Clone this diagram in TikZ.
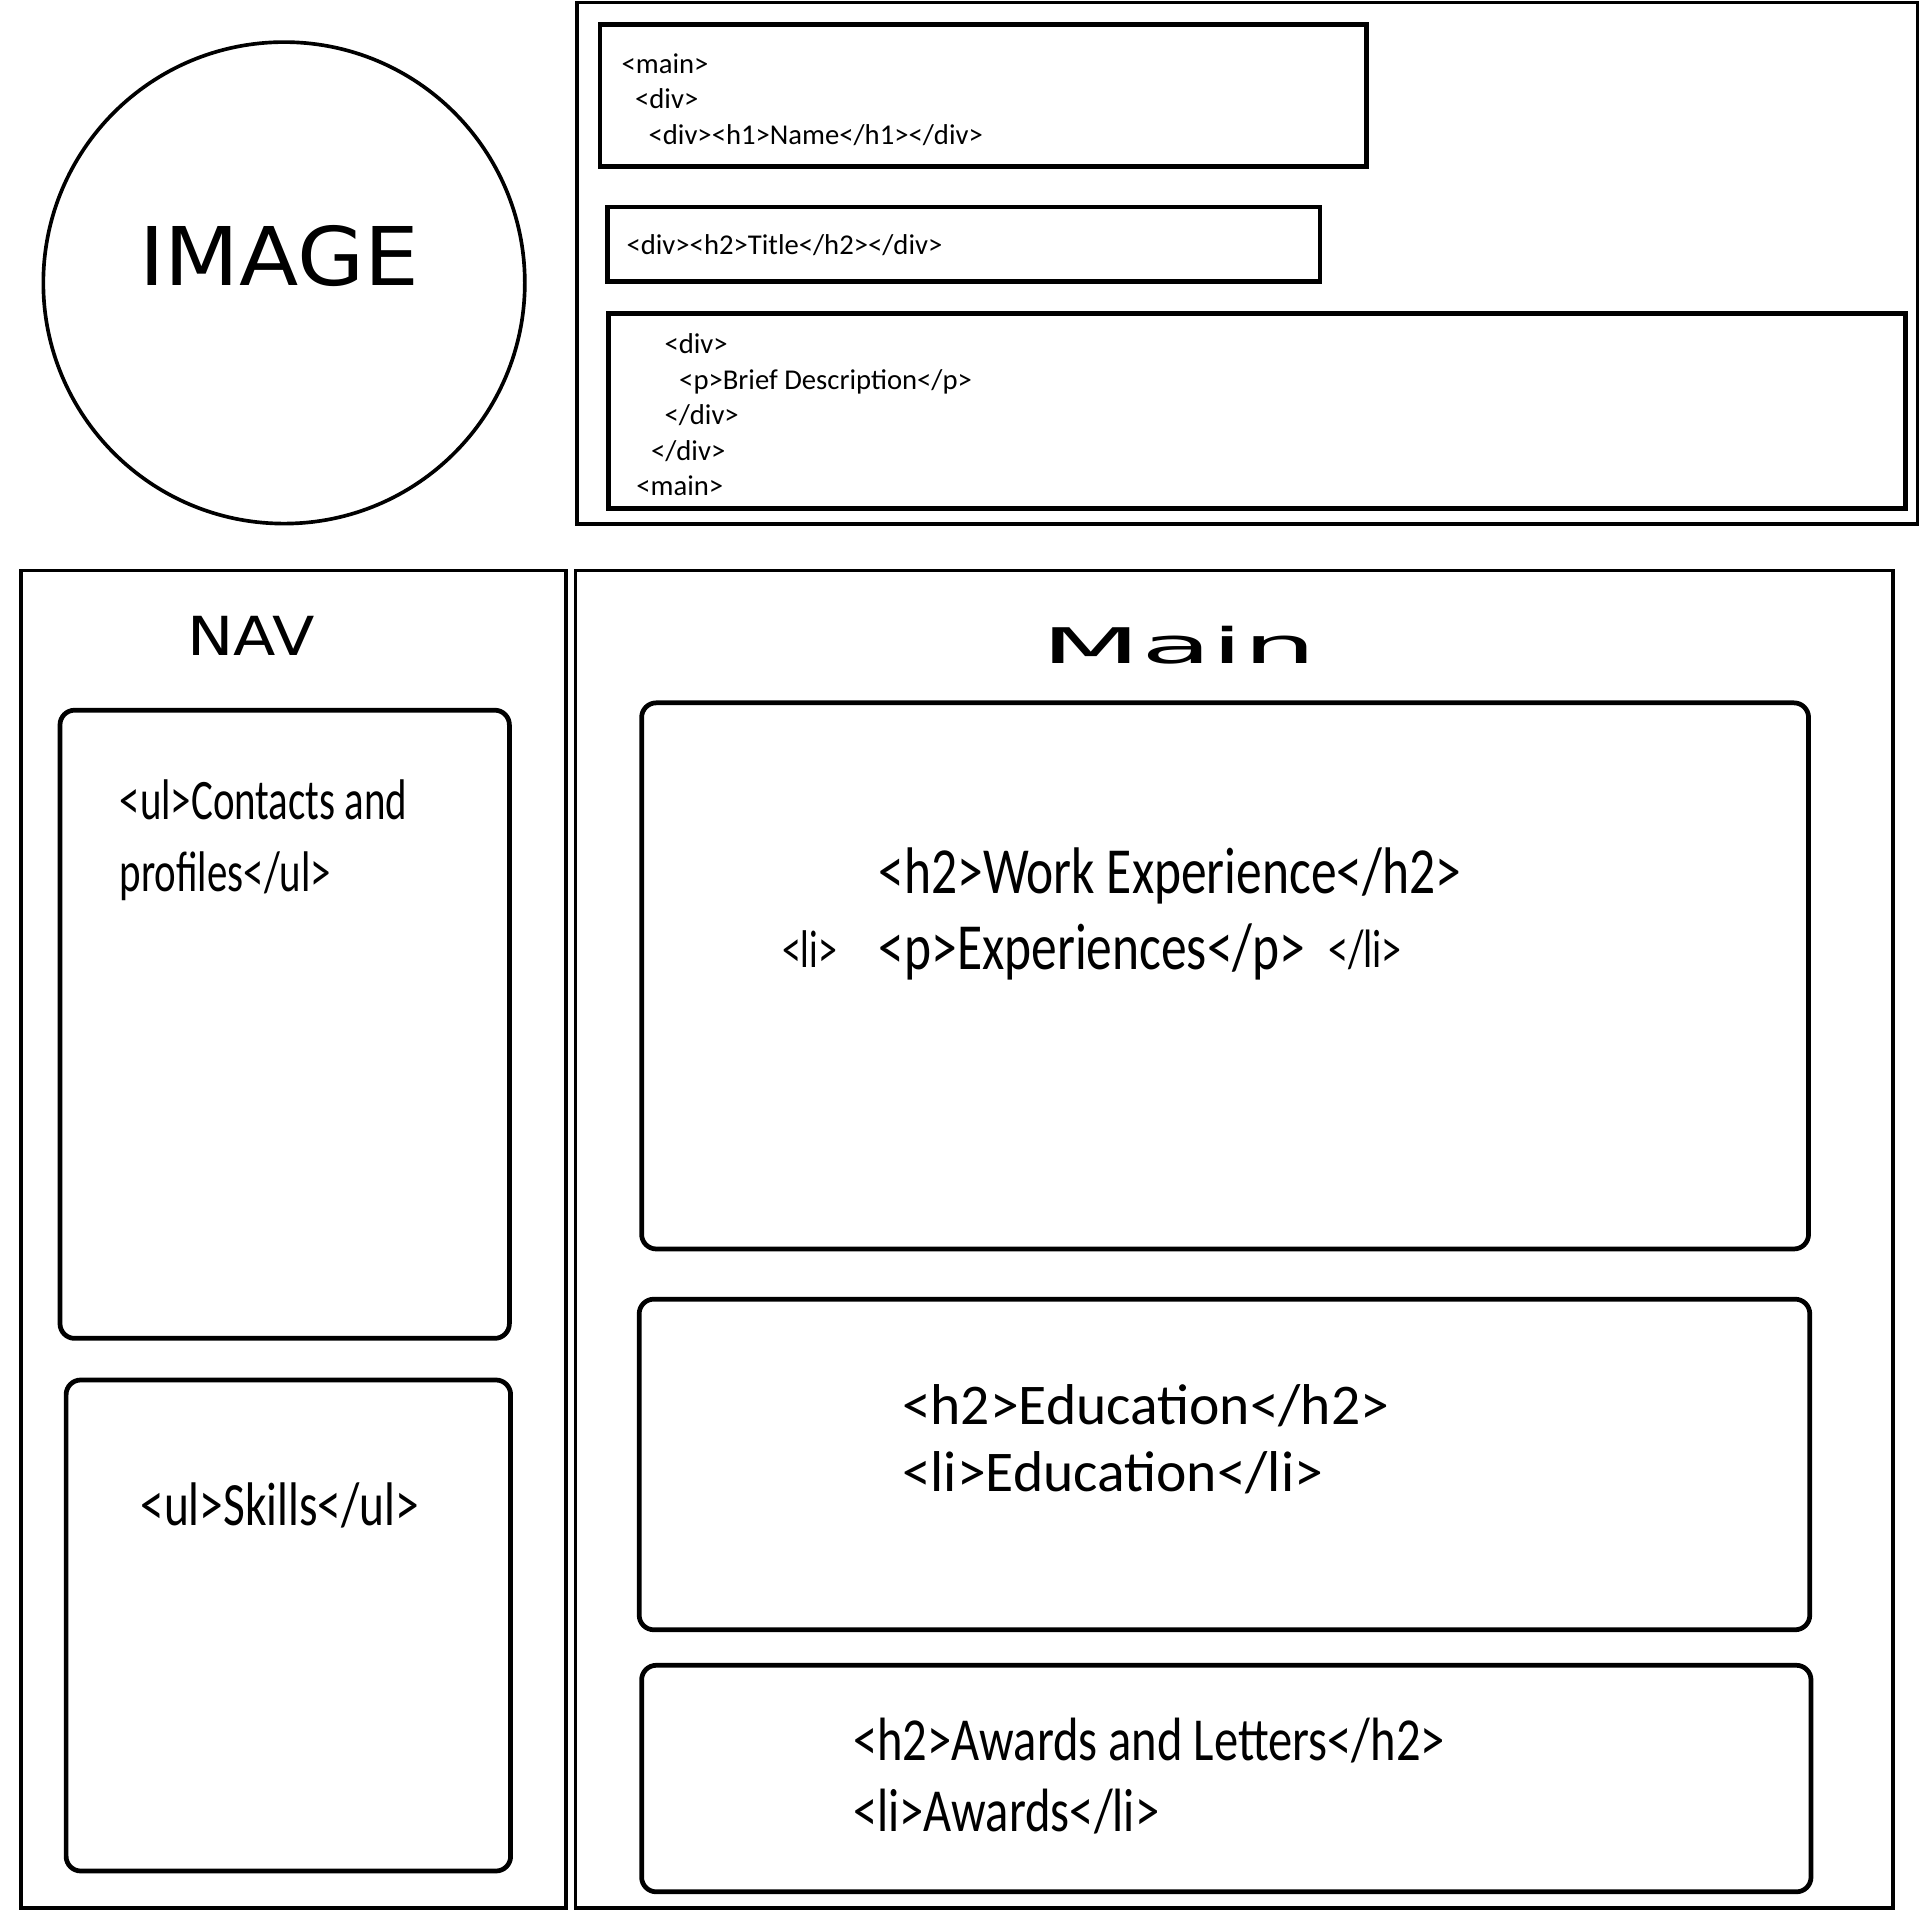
\documentclass[tikz,border=0pt]{standalone}
\usepackage{fontspec}
\setmainfont{Carlito}
\newfontfamily\headfont{DejaVu Sans}
\usepackage{tikz}
\usetikzlibrary{positioning}

\begin{document}
\begin{tikzpicture}[x=0.01cm, y=-0.01cm,
  frame/.style={draw, line width=0.85pt},
  box/.style={draw, line width=1.1pt},
  card/.style={draw, line width=1.1pt, rounded corners=3.4pt},
  code/.style={anchor=base west, inner sep=0pt, font=\fontsize{6.66}{8.3}\selectfont},
  head/.style={inner sep=0pt, font=\headfont\fontsize{12.5}{15}\selectfont}]

\useasboundingbox (0,0) rectangle (1568,1566.4);

  % Header
  \draw[frame] (232,231) circle[radius=1.965cm];
  \node[head, font=\headfont\fontsize{18.8}{22}\selectfont] (image) at (228,209) {\scalebox{1.07}[1]{IMAGE}};

  \draw[frame] (471,2) rectangle (1566,428);
  \draw[box] (490,20) rectangle (1116,136);
  \draw[box] (496,169) rectangle (1078,230);
  \draw[box] (497,256) rectangle (1556,415);

  \node[code] (mainopen) at (507,60) {<main>};
  \node[code] (divopen) at (518,89) {<div>};
  \node[code] (name) at (529,118) {<div><h1>Name</h1></div>};
  \node[code] (title) at (511,208) {<div><h2>Title</h2></div>};
  \node[code] (descopen) at (542,289) {<div>};
  \node[code] (desc) at (554,318) {<p>Brief Description</p>};
  \node[code] (descclose) at (542,347) {</div>};
  \node[code] (divclose) at (531,376) {</div>};
  \node[code] (mainclose) at (519,405) {<main>};

  % Nav
  \draw[frame] (17,466) rectangle (462,1558);
  \node[head] (nav) at (205,519) {\scalebox{1.15}[1]{NAV}};
  \draw[card] (49,580) rectangle (416,1093);
  \draw[card] (54,1127) rectangle (417,1528);
  \node[code, font=\fontsize{9.5}{11}\selectfont] (contacts) at (97,669) {\scalebox{1}[1.4]{<ul>Contacts and}};
  \node[code, font=\fontsize{9.5}{11}\selectfont] (profiles) at (97,728) {\scalebox{1}[1.4]{profiles</ul>}};
  \node[code, font=\fontsize{11}{13}\selectfont] (skills) at (114,1246) {\scalebox{1}[1.3]{<ul>Skills</ul>}};

  % Main
  \draw[frame] (470,466) rectangle (1546,1558);
  \node[head, font=\headfont\fontsize{11.4}{14}\selectfont] (main) at (963,527) {\scalebox{2.35}[1]{Main}};
  \draw[card] (524,574) rectangle (1477,1020);
  \draw[card] (522,1061) rectangle (1478,1331);
  \draw[card] (524,1360) rectangle (1479,1545);

  \node[code, font=\fontsize{11.95}{14}\selectfont] (work) at (717,730) {\scalebox{1}[1.28]{<h2>Work Experience</h2>}};
  \node[code, font=\fontsize{11.95}{14}\selectfont] (exp) at (717,792) {\scalebox{1}[1.28]{<p>Experiences</p>}};
  \node[code, font=\fontsize{8.8}{10}\selectfont] (liopen) at (638,790) {\scalebox{1}[1.4]{<li>}};
  \node[code, font=\fontsize{9.3}{10}\selectfont] (liclose) at (1084,790) {\scalebox{1}[1.35]{</li>}};

  \node[code, font=\fontsize{13.37}{16}\selectfont] (edutitle) at (736,1163) {<h2>Education</h2>};
  \node[code, font=\fontsize{13.37}{16}\selectfont] (edu) at (736,1218) {<li>Education</li>};

  \node[code, font=\fontsize{11.27}{13}\selectfont] (awardtitle) at (696,1438) {\scalebox{1}[1.26]{<h2>Awards and Letters</h2>}};
  \node[code, font=\fontsize{11.27}{13}\selectfont] (award) at (696,1496) {\scalebox{1}[1.26]{<li>Awards</li>}};

\end{tikzpicture}
\end{document}
